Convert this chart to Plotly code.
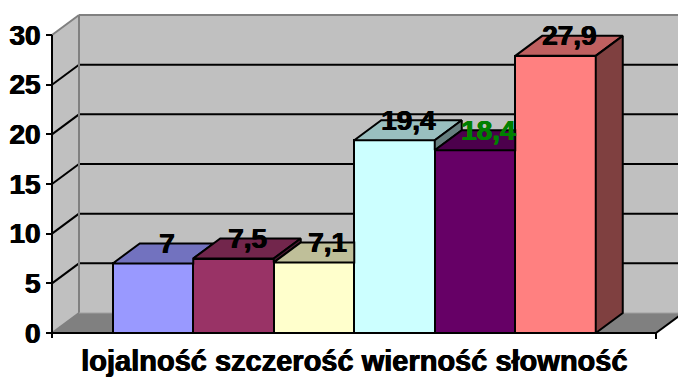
import plotly.graph_objects as go

# ---- data ----
categories = ["lojalność szczerość wierność słowność"]
series_values = [7, 7.5, 7.1, 19.4, 18.4, 27.9]
face_colors = ["#9999FF", "#993366", "#FFFFCC", "#CCFFFF", "#660066", "#FF8080"]
label_colors = ["#000000", "#000000", "#000000", "#000000", "#008000", "#000000"]
y_ticks = [0, 5, 10, 15, 20, 25, 30]

# ---- layout geometry (pixels -> axis units) ----
W, H = 678, 378
ML = 40
PX_PER_X = 80.5
PX_PER_Y = 9.933
X0 = -(153 - ML) / PX_PER_X
X1 = X0 + (W - ML) / PX_PER_X
Y0 = -(H - 333) / PX_PER_Y
Y1 = 333 / PX_PER_Y
DX = 27 / PX_PER_X          # depth offset along x
DY = 20 / PX_PER_Y          # depth offset along y
XL = (52 - 153) / PX_PER_X  # front-left corner of the floor
XR = (656 - 153) / PX_PER_X # front-right corner of the floor
YMAX = y_ticks[-1]

FONT = "Liberation Sans, Arial, sans-serif"


def heavy(color):
    # slight horizontal smear to give the heavy bold look
    return f"0.7px 0 0 {color}, -0.3px 0 0 {color}"


def shade(hex_color, f):
    h = hex_color.lstrip("#")
    r, g, b = (int(h[i:i + 2], 16) for i in (0, 2, 4))
    return "#%02X%02X%02X" % (int(r * f), int(g * f), int(b * f))


def path(pts):
    return "M " + " L ".join(f"{x},{y}" for x, y in pts) + " Z"


shapes = []


def add_poly(pts, fill, line_color=None, width=0, layer="below"):
    shapes.append(dict(type="path", xref="x", yref="y", path=path(pts),
                       fillcolor=fill, layer=layer,
                       line=dict(color=line_color or fill, width=width)))


def add_line(p0, p1, color, width=2, layer="below"):
    shapes.append(dict(type="line", xref="x", yref="y", x0=p0[0], y0=p0[1],
                       x1=p1[0], y1=p1[1], layer=layer,
                       line=dict(color=color, width=width)))


# walls and floor
add_poly([(XL, 0), (XL, YMAX), (XL + DX, YMAX + DY), (XL + DX, DY)], "#C0C0C0")
add_poly([(XL + DX, DY), (XL + DX, YMAX + DY), (X1 + 1, YMAX + DY), (X1 + 1, DY)], "#C0C0C0")
add_poly([(XL, 0), (XR, 0), (XR + DX, DY), (XL + DX, DY)], "#808080")

# gridlines on side and back walls
for v in y_ticks[1:-1]:
    add_line((XL, v), (XL + DX, v + DY), "black")
    add_line((XL + DX, v + DY), (X1 + 1, v + DY), "black")

# wall edges
add_line((XL, YMAX), (XL + DX, YMAX + DY), "#808080")
add_line((XL + DX, YMAX + DY), (X1 + 1, YMAX + DY), "#808080")
add_line((XL + DX, DY), (XL + DX, YMAX + DY), "#808080")
add_line((XL, 0), (XL + DX, DY), "#808080")
add_line((XL + DX, DY), (XR + DX, DY), "#A0A0A0", width=1)

# front axis line, floor edges and category ticks
add_line((XL, 0), (XL, YMAX), "black")
add_line((XL, 0), (XR, 0), "black")
add_line((XR, 0), (XR + DX, DY), "black")
add_line((XR, 0), (XR, -0.6), "black")
add_line((XL, 0), (XL, -0.5), "black")

fig = go.Figure()

n = len(series_values)
xs = list(range(n))

# front faces
fig.add_trace(go.Bar(
    x=xs, y=series_values, width=1,
    marker=dict(color=face_colors, line=dict(color="black", width=2)),
    hoverinfo="skip", showlegend=False,
))

# top and side faces, drawn left to right with hidden parts trimmed
for i, v in enumerate(series_values):
    nxt = series_values[i + 1] if i + 1 < n else None
    xa, xb = i - 0.5, i + 0.5
    # top face
    if nxt is None or nxt <= v:
        top = [(xa, v), (xb, v), (xb + DX, v + DY), (xa + DX, v + DY)]
    elif nxt < v + DY:
        t = 1 - (nxt - v) / DY
        top = [(xa, v), (xb, v), (xb, nxt), (xb + DX * t, v + DY), (xa + DX, v + DY)]
    else:
        top = [(xa, v), (xb, v), (xb, v + DY), (xa + DX, v + DY)]
    fig.add_trace(go.Scatter(
        x=[p[0] for p in top] + [top[0][0]], y=[p[1] for p in top] + [top[0][1]],
        mode="lines", fill="toself", fillcolor=shade(face_colors[i], 0.75),
        line=dict(color="black", width=2), hoverinfo="skip", showlegend=False,
    ))
    # right side face (only the part above the neighbour)
    low = 0 if nxt is None else nxt
    if low < v:
        side = [(xb, low), (xb, v), (xb + DX, v + DY), (xb + DX, low + DY)]
        fig.add_trace(go.Scatter(
            x=[p[0] for p in side] + [side[0][0]], y=[p[1] for p in side] + [side[0][1]],
            mode="lines", fill="toself", fillcolor=shade(face_colors[i], 0.5),
            line=dict(color="black", width=2), hoverinfo="skip", showlegend=False,
        ))

annotations = []
for i, v in enumerate(series_values):
    annotations.append(dict(
        x=i + DX / 2, y=v + DY / 2, xref="x", yref="y",
        text=f"{v:g}".replace(".", ","), showarrow=False,
        yanchor="middle", yshift=10,
        font=dict(family=FONT, size=28, color=label_colors[i], weight="bold",
                  shadow=heavy(label_colors[i])),
    ))

annotations.append(dict(
    x=(n - 1) / 2, y=(333 - 361) / PX_PER_Y, xref="x", yref="y",
    text=categories[0], showarrow=False, yanchor="middle",
    font=dict(family=FONT, size=29, color="black", weight="bold",
              shadow=heavy("black")),
))

fig.update_layout(
    width=W, height=H,
    margin=dict(l=ML, r=0, t=0, b=0),
    paper_bgcolor="white", plot_bgcolor="white",
    shapes=shapes, annotations=annotations,
    bargap=0, showlegend=False,
    xaxis=dict(range=[X0, X1], visible=False, fixedrange=True),
    yaxis=dict(
        range=[Y0, Y1], tickvals=y_ticks, ticks="outside", ticklen=6,
        tickwidth=2, tickcolor="black", showgrid=False, zeroline=False,
        showline=False, anchor="free", position=(52 - ML) / (W - ML),
        tickfont=dict(family=FONT, size=28, color="black", weight="bold",
                      shadow=heavy("black")),
        fixedrange=True,
    ),
)

fig.write_html("out.html")
